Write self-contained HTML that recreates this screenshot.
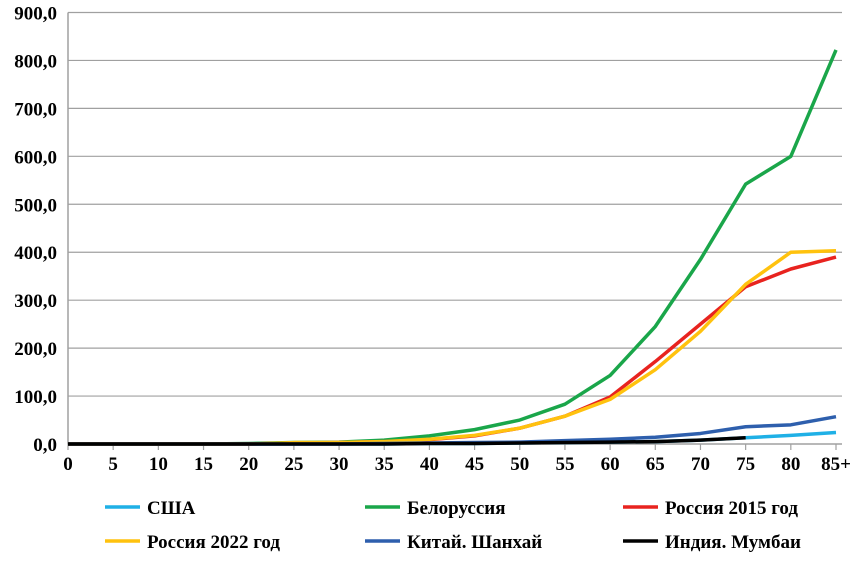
<!DOCTYPE html>
<html><head><meta charset="utf-8"><style>
body{margin:0;background:#fff;}
svg text{font-family:"Liberation Serif",serif;font-weight:bold;font-size:19px;fill:#000;}
</style></head><body>
<svg id="c" width="861" height="563" xmlns="http://www.w3.org/2000/svg"></svg>
<script>
const categories=["0","5","10","15","20","25","30","35","40","45","50","55","60","65","70","75","80","85+"];
const yTicks=[0,100,200,300,400,500,600,700,800,900];
const usa=[0,0,0,0,0,0,0,0,1,1,2,3,4,5,8,13,18,24];
const belarus=[0,0,0,0,1,3,4,8,17,30,50,83,143,245,385,542,600,822];
const rus2015=[0,0,0,0,0,2,3,5,9,17,33,58,98,172,250,328,365,390];
const rus2022=[0,0,0,0,0,3,3,5,10,18,33,58,93,155,235,333,400,403];
const shanghai=[0,0,0,0,0,0,0,1,2,3,4,7,10,14,22,36,40,57];
const mumbai=[0,0,0,0,0,0,0,0,1,1,2,3,4,5,8,13,null,null];
const names=["США","Белоруссия","Россия 2015 год","Россия 2022 год","Китай. Шанхай","Индия. Мумбаи"];
const series=[usa,belarus,rus2015,rus2022,shanghai,mumbai];
const colors=["#1fb0e6","#1aa64a","#e8231f","#ffc20e","#2e5fad","#000"];
const keys=["usa","belarus","russia-2015","russia-2022","china-shanghai","india-mumbai"];
const X0=68,X1=836,Y0=444,Y1=12.5,YMAX=900;
const sx=i=>X0+i*(X1-X0)/(categories.length-1);
const sy=v=>Y0-v*(Y0-Y1)/YMAX;
const svg=document.getElementById('c');const NS="http://www.w3.org/2000/svg";
function mk(t,a,p){const e=document.createElementNS(NS,t);for(const k in a)e.setAttribute(k,a[k]);(p||svg).appendChild(e);return e;}
yTicks.forEach(v=>{
 if(v>0){const g=mk('line',{x1:X0,x2:X1+6,y1:sy(v),y2:sy(v),stroke:'#a0a0a0','stroke-width':1.2});
 
 }
 const t=mk('text',{x:57,y:sy(v)+7,'text-anchor':'end','font-size':'20.5'});t.textContent=v.toFixed(1).replace('.',',');
 
 
});
const ya=mk('line',{x1:X0,x2:X0,y1:Y1,y2:Y0,stroke:'#a0a0a0','stroke-width':1.5});


const xa=mk('line',{x1:X0,x2:X1+6,y1:Y0,y2:Y0,stroke:'#a0a0a0','stroke-width':1.5});


categories.forEach((c,i)=>{
 mk('line',{x1:sx(i),x2:sx(i),y1:Y0,y2:Y0+6,stroke:'#a0a0a0','stroke-width':1.2});
 const t=mk('text',{x:sx(i),y:Y0+26,'text-anchor':'middle','font-size':'20'});t.textContent=c;
 
 
});
[0,1,2,3,4,5].forEach(k=>{
 const d=series[k];let p='';let started=false;
 d.forEach((v,i)=>{if(v==null){started=false;return;}p+=(started?'L':'M')+sx(i)+','+sy(v);started=true;});
 const l=mk('path',{d:p,fill:'none',stroke:colors[k],'stroke-width':3.5,'stroke-linejoin':'round'});
 
 
});
const lx=[105,365,623],ly=[507,541];
names.forEach((n,k)=>{
 const x=lx[k%3],y=ly[Math.floor(k/3)];
 const g=mk('g',{});
 
 
 mk('line',{x1:x,x2:x+35,y1:y,y2:y,stroke:colors[k],'stroke-width':3.5},g);
 const t=mk('text',{x:x+42,y:y+7,'font-size':'20'},g);t.textContent=n;
});
</script>
</body></html>
